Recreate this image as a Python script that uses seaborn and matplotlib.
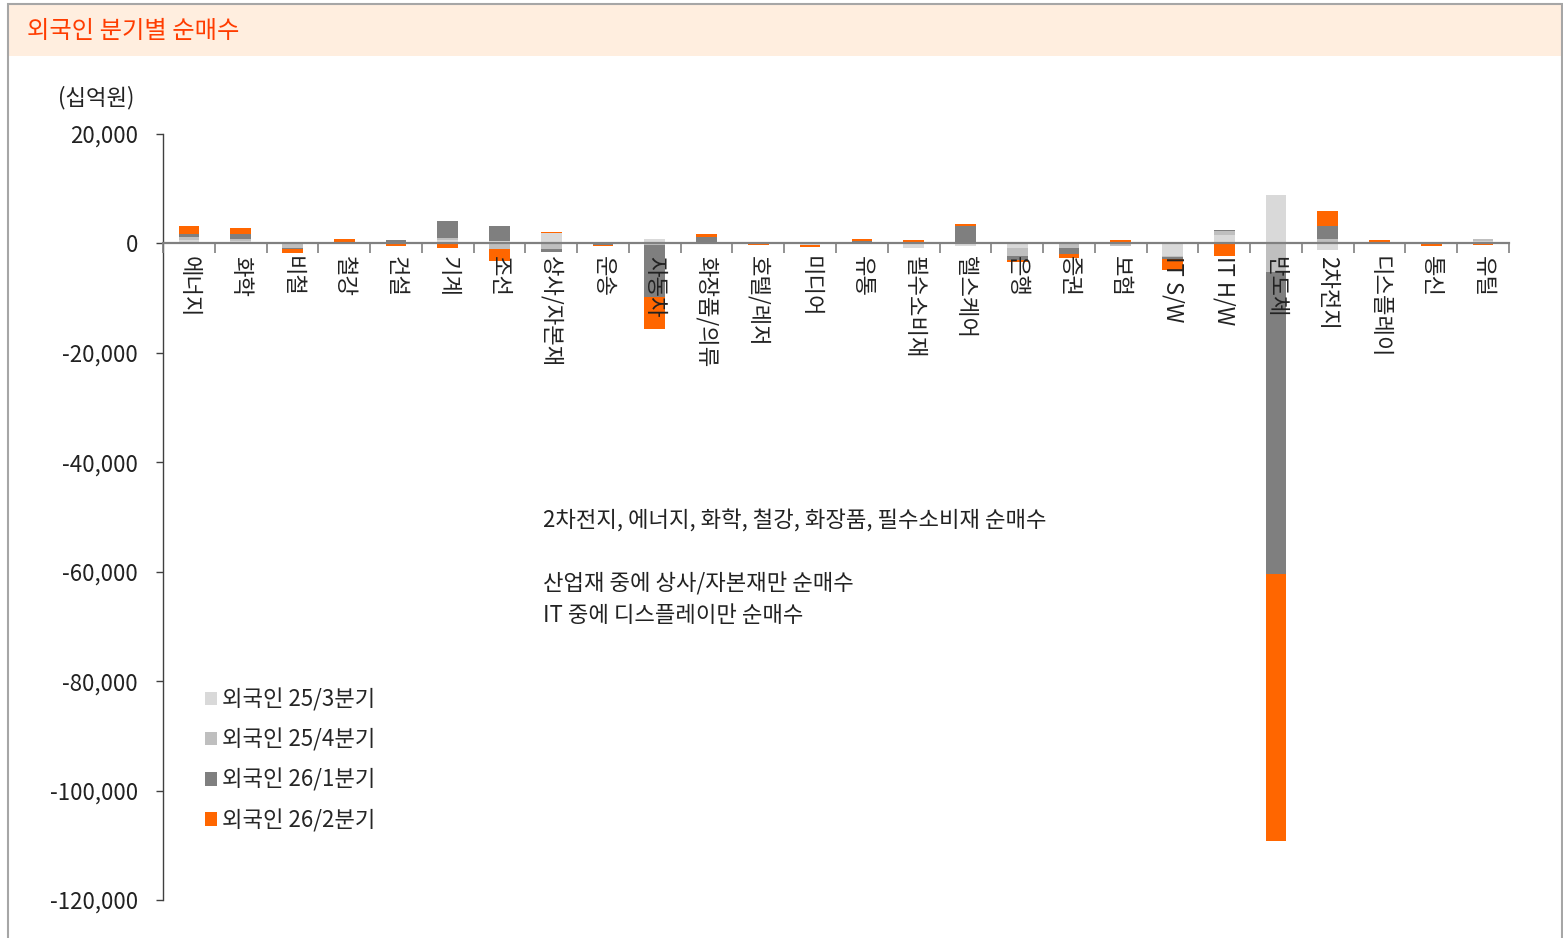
import numpy as np
import pandas as pd
import matplotlib
matplotlib.use('Agg')
import matplotlib.pyplot as plt
import matplotlib.ticker as mticker
from matplotlib.patches import Rectangle, Patch
import seaborn as sns

sns.set_theme(style='white')
plt.rcParams['font.family'] = ['Noto Sans CJK KR', 'DejaVu Sans']

# 업종 (x축)
cats = ['에너지', '화학', '비철', '철강', '건설', '기계', '조선', '상사/자본재', '운송',
        '자동차', '화장품/의류', '호텔/레저', '미디어', '유통', '필수소비재', '헬스케어',
        '은행', '증권', '보험', 'IT S/W', 'IT H/W', '반도체', '2차전지', '디스플레이',
        '통신', '유틸']

# 분기별 외국인 순매수 (십억원)
q3_25 = [700, 500, -100, -150, 200, 600, 500, 1950, -100, 900, 100, -100, -200,
         100, -900, -500, -900, 300, -100, -2300, 1500, 8800, -1200, 100, -150, 400]
q4_25 = [400, 400, -700, 100, 100, 400, -1000, -1000, 50, -300, 100, 100, -100,
         100, 0, 100, -1400, -800, -400, -200, 700, -5300, 900, -100, 0, 500]
q1_26 = [600, 800, -300, 150, 400, 3100, 2700, -500, -100, -9500, 1050, 100, 300,
         300, 200, 3050, -700, -1050, 200, -300, 200, -55100, 2300, 100, 300, 0]
q2_26 = [1500, 1100, -700, 550, -500, -900, -2300, 200, -300, -5800, 500, -150, -300,
         300, 500, 350, -450, -800, 400, -2100, -2300, -48800, 2750, 350, -400, -250]

series = ['외국인 25/3분기', '외국인 25/4분기', '외국인 26/1분기', '외국인 26/2분기']
values = [q3_25, q4_25, q1_26, q2_26]
colors = ['#D9D9D9', '#BFBFBF', '#7F7F7F', '#FF6600']

FS = 16

fig = plt.figure(figsize=(15.63, 9.38), dpi=100)
ax = fig.add_axes([163 / 1563, 1 - 900 / 938, (1509 - 163) / 1563, (900 - 134) / 938])
ax.set_axisbelow(False)

# 양수/음수 각각 누적
pos_base = np.zeros(len(cats))
neg_base = np.zeros(len(cats))
handles = []
for name, vals, col in zip(series, values, colors):
    v = np.array(vals, dtype=float)
    bottom = np.where(v >= 0, pos_base, neg_base)
    d = pd.DataFrame({'cat': cats, 'val': v})
    sns.barplot(data=d, x='cat', y='val', order=cats, color=col, saturation=1,
                width=0.4, errorbar=None, bottom=bottom, linewidth=0, ax=ax)
    pos_base += np.where(v >= 0, v, 0)
    neg_base += np.where(v < 0, v, 0)
    handles.append(Patch(facecolor=col, edgecolor='none', label=name))

ax.set_xlim(-0.5, len(cats) - 0.5)
ax.set_ylim(-120000, 20000)
ax.set_xlabel('')
ax.set_ylabel('')

for s in ['top', 'right']:
    ax.spines[s].set_visible(False)
ax.spines['left'].set_color('#404040')
ax.spines['left'].set_linewidth(1.0)
ax.spines['bottom'].set_position(('data', 0))
ax.spines['bottom'].set_color('#808080')
ax.spines['bottom'].set_linewidth(1.6)
ax.spines['bottom'].set_zorder(5)
ax.xaxis.set_zorder(6)

ax.set_yticks(np.arange(-120000, 20001, 20000))
ax.yaxis.set_major_formatter(mticker.FuncFormatter(lambda v, p: f'{v:,.0f}'))
ax.tick_params(axis='y', which='major', left=True, direction='out', length=5,
               width=1, color='#404040', pad=13, labelsize=FS, labelcolor='#222222')

ax.set_xticks(range(len(cats)))
ax.set_xticklabels(cats, rotation=270, fontsize=FS, color='#222222')
ax.set_xticks(np.arange(-0.5, len(cats), 1.0), minor=True)
ax.tick_params(axis='x', which='major', bottom=True, length=0, pad=9)
ax.tick_params(axis='x', which='minor', bottom=True, direction='out', length=7,
               width=1.2, color='#808080')

ax.legend(handles=handles, loc='upper left', bbox_to_anchor=(205 / 1563, 1 - 688 / 938),
          bbox_transform=fig.transFigure, frameon=False, fontsize=FS,
          handlelength=0.55, handleheight=0.55, handletextpad=0.2,
          labelspacing=0.77, borderpad=0, borderaxespad=0)

# 제목 띠와 테두리
fig.patches.append(Rectangle((9 / 1563, 1 - 56 / 938), (1561 - 9) / 1563, 51 / 938,
                             transform=fig.transFigure, facecolor='#FFEEDF',
                             edgecolor='none', zorder=0))
fig.patches.append(Rectangle((8 / 1563, -0.01), (1562 - 8) / 1563, 1.01 - 4 / 938,
                             transform=fig.transFigure, facecolor='none',
                             edgecolor='#A6A6A6', linewidth=1.5, zorder=1))
fig.text(27 / 1563, 1 - 31 / 938, '외국인 분기별 순매수', fontsize=17.5, color='#FF3C00',
         va='center', ha='left')
fig.text(58 / 1563, 1 - 98 / 938, '(십억원)', fontsize=FS, color='#222222',
         va='center', ha='left')

notes = [('2차전지, 에너지, 화학, 철강, 화장품, 필수소비재 순매수', 521),
         ('산업재 중에 상사/자본재만 순매수', 584),
         ('IT 중에 디스플레이만 순매수', 616)]
for txt, yp in notes:
    fig.text(543 / 1563, 1 - yp / 938, txt, fontsize=FS, color='#222222',
             va='center', ha='left')

fig.savefig('out.png', dpi=100)
